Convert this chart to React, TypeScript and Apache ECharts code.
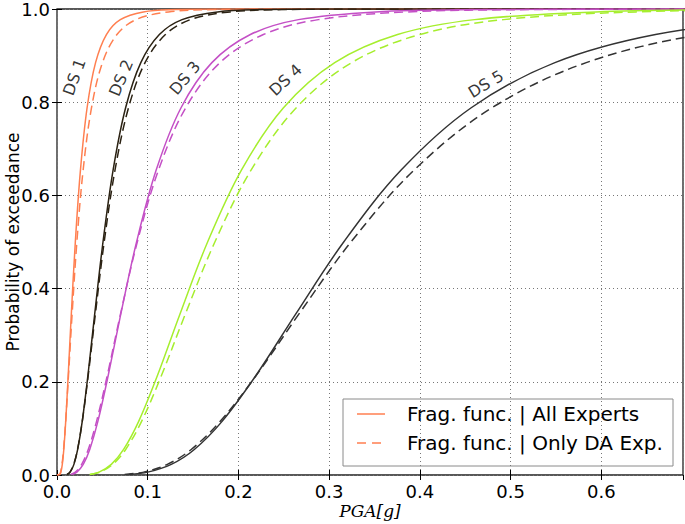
import React, { useEffect, useRef } from "react";
import * as echarts from "echarts";

const probLevels = [0.0013, 0.0062, 0.0228, 0.0548, 0.1151, 0.2119, 0.3446, 0.5, 0.6554, 0.7881, 0.8849, 0.9452, 0.9772, 0.9938, 0.9987, 0.9998];

// PGA [g] values at which each curve reaches the probability levels above
const ds1AllX = [0.00315, 0.00429, 0.00585, 0.00749, 0.0096, 0.0123, 0.01576, 0.0202, 0.02589, 0.03317, 0.04251, 0.05447, 0.0698, 0.09517, 0.12976, 0.1769];
const ds1DaX = [0.00276, 0.0039, 0.00551, 0.00726, 0.00957, 0.01261, 0.01662, 0.0219, 0.02886, 0.03804, 0.05012, 0.06605, 0.08705, 0.12292, 0.17355, 0.24506];
const ds2AllX = [0.01131, 0.01453, 0.01865, 0.02278, 0.02782, 0.03398, 0.04151, 0.0507, 0.06192, 0.07563, 0.09238, 0.11283, 0.13782, 0.17696, 0.22722, 0.29176];
const ds2DaX = [0.01093, 0.01417, 0.01838, 0.02263, 0.02786, 0.0343, 0.04223, 0.052, 0.06402, 0.07883, 0.09705, 0.11949, 0.14712, 0.1908, 0.24746, 0.32094];
const ds3AllX = [0.01659, 0.0219, 0.02891, 0.03609, 0.04506, 0.05626, 0.07024, 0.0877, 0.1095, 0.13672, 0.1707, 0.21313, 0.26612, 0.35123, 0.46357, 0.61185];
const ds3DaX = [0.01507, 0.02025, 0.0272, 0.03444, 0.0436, 0.05521, 0.0699, 0.0885, 0.11206, 0.14188, 0.17966, 0.22746, 0.28801, 0.38685, 0.51957, 0.69785];
const ds4AllX = [0.03594, 0.04638, 0.05986, 0.07341, 0.09002, 0.11039, 0.13537, 0.166, 0.20357, 0.24963, 0.30612, 0.37539, 0.46035, 0.59406, 0.76662, 0.98928];
const ds4DaX = [0.03656, 0.04742, 0.06151, 0.07572, 0.09323, 0.11479, 0.14132, 0.174, 0.21423, 0.26377, 0.32475, 0.39983, 0.49228, 0.63846, 0.82803, 1.0739];
const ds5AllX = [0.0795, 0.10005, 0.12593, 0.15136, 0.18195, 0.2187, 0.26288, 0.316, 0.37983, 0.45656, 0.54883, 0.65968, 0.79294, 0.998, 1.256, 1.581];
const ds5DaX = [0.07449, 0.09519, 0.1216, 0.14794, 0.17995, 0.21893, 0.26633, 0.324, 0.39415, 0.47949, 0.58333, 0.70966, 0.8633, 1.103, 1.409, 1.8];

const dsNames = ["DS 1", "DS 2", "DS 3", "DS 4", "DS 5"];
const dsColors = ["#ff7f50", "#2b2213", "#c450c6", "#a6ee2e", "#333333"];
const dsAllX = [ds1AllX, ds2AllX, ds3AllX, ds4AllX, ds5AllX];
const dsDaX = [ds1DaX, ds2DaX, ds3DaX, ds4DaX, ds5DaX];
const dsStartsAtOrigin = [true, false, false, false, false];

// DS label anchor (in data units) and text angle
const dsLabelX = [0.019, 0.0705, 0.141, 0.252, 0.4727];
const dsLabelY = [0.854, 0.852, 0.852, 0.848, 0.839];
const dsLabelAngle = [70, 67, 50, 43, 31];

const legendLabels = ["Frag. func. | All Experts", "Frag. func. | Only DA Exp."];
const xAxisName = "PGA[g]";
const yAxisName = "Probability of exceedance";
const xMax = 0.69;
const xInterval = 0.1;
const yInterval = 0.2;

const FONT = "DejaVu Sans";

function buildPoints(xs: number[], origin: boolean): number[][] {
  const pts: number[][] = xs.map((x, i) => [x, probLevels[i]]);
  if (origin) pts.unshift([0, 0]);
  if (xs[xs.length - 1] < xMax) pts.push([0.75, 1.0]);
  return pts;
}

export default function App() {
  const ref = useRef<HTMLDivElement>(null);
  useEffect(() => {
    if (!ref.current) return;
    const chart = echarts.init(ref.current, undefined, { renderer: "svg" });

    const series: any[] = [];
    dsNames.forEach((name, k) => {
      series.push({
        name: name + " all",
        type: "line",
        data: buildPoints(dsAllX[k], dsStartsAtOrigin[k]),
        showSymbol: false,
        symbol: "none",
        smooth: 0.35,
        clip: true,
        lineStyle: { color: dsColors[k], width: 1.5, type: "solid" },
        z: 3,
        silent: true,
      });
      series.push({
        name: name + " da",
        type: "line",
        data: buildPoints(dsDaX[k], dsStartsAtOrigin[k]),
        showSymbol: false,
        symbol: "none",
        smooth: 0.35,
        clip: true,
        lineStyle: { color: dsColors[k], width: 1.5, type: [9, 5] },
        z: 3,
        silent: true,
      });
    });
    series.push({
      name: "labels",
      type: "scatter",
      symbolSize: 0,
      silent: true,
      z: 5,
      data: dsNames.map((n, k) => ({
        value: [dsLabelX[k], dsLabelY[k]],
        label: {
          show: true,
          formatter: n,
          rotate: dsLabelAngle[k],
          position: "inside",
          color: "#000",
          fontFamily: FONT,
          fontSize: 16,
        },
      })),
    });

    const gridLeft = 57, gridTop = 9, gridRight = 2, gridBottom = 49;
    const lgX = 343, lgY = 399, lgW = 330, lgH = 67;

    chart.setOption({
      animation: false,
      backgroundColor: "#fff",
      grid: {
        left: gridLeft,
        top: gridTop,
        right: gridRight,
        bottom: gridBottom,
        containLabel: false,
        outerBoundsMode: "none",
        show: true,
        borderColor: "#222",
        borderWidth: 1.3,
        backgroundColor: "transparent",
      },
      xAxis: [
        {
          type: "value",
          min: 0,
          max: xMax,
          interval: xInterval,
          name: xAxisName,
          nameLocation: "middle",
          nameGap: 27,
          nameMoveOverlap: false,
          nameTextStyle: { fontFamily: "DejaVu Serif", fontStyle: "italic", fontSize: 17, color: "#000" },
          axisLine: { show: false },
          axisTick: { show: true, inside: true, length: 5, lineStyle: { color: "#000" } },
          axisLabel: {
            color: "#000",
            fontFamily: FONT,
            fontSize: 18,
            margin: 7,
            showMaxLabel: false,
            formatter: (v: number) => v.toFixed(1),
          },
          splitLine: { show: true, lineStyle: { color: "#777", width: 1, type: [1, 3] } },
        },
        {
          type: "value",
          position: "top",
          min: 0,
          max: xMax,
          interval: xInterval,
          axisLine: { show: false },
          axisTick: { show: true, inside: true, length: 5, lineStyle: { color: "#000" } },
          axisLabel: { show: false },
          splitLine: { show: false },
        },
      ],
      yAxis: [
        {
          type: "value",
          min: 0,
          max: 1,
          interval: yInterval,
          name: yAxisName,
          nameLocation: "middle",
          nameGap: 36,
          nameMoveOverlap: false,
          nameTextStyle: { fontFamily: FONT, fontSize: 17, color: "#000" },
          axisLine: { show: false },
          axisTick: { show: true, inside: true, length: 5, lineStyle: { color: "#000" } },
          axisLabel: {
            color: "#000",
            fontFamily: FONT,
            fontSize: 18,
            margin: 7,
            formatter: (v: number) => v.toFixed(1),
          },
          splitLine: { show: true, lineStyle: { color: "#777", width: 1, type: [1, 3] } },
        },
        {
          type: "value",
          position: "right",
          min: 0,
          max: 1,
          interval: yInterval,
          axisLine: { show: false },
          axisTick: { show: true, inside: true, length: 5, lineStyle: { color: "#000" } },
          axisLabel: { show: false },
          splitLine: { show: false },
        },
      ],
      series,
      graphic: [
        {
          type: "group",
          z: 100,
          children: [
            {
              type: "rect",
              shape: { x: lgX, y: lgY, width: lgW, height: lgH },
              style: { fill: "rgba(255,255,255,0.6)", stroke: "#8a8a8a", lineWidth: 1 },
            },
            {
              type: "line",
              shape: { x1: lgX + 14, y1: lgY + 15, x2: lgX + 42, y2: lgY + 15 },
              style: { stroke: dsColors[0], lineWidth: 1.5 },
            },
            {
              type: "line",
              shape: { x1: lgX + 14, y1: lgY + 44, x2: lgX + 42, y2: lgY + 44 },
              style: { stroke: dsColors[0], lineWidth: 1.5, lineDash: [9, 6] },
            },
            {
              type: "text",
              x: lgX + 64,
              y: lgY + 15,
              style: { text: legendLabels[0], fontFamily: FONT, fontSize: 20, fill: "#000", verticalAlign: "middle", align: "left" },
            },
            {
              type: "text",
              x: lgX + 64,
              y: lgY + 44,
              style: { text: legendLabels[1], fontFamily: FONT, fontSize: 20, fill: "#000", verticalAlign: "middle", align: "left" },
            },
          ],
        },
      ],
    });
    return () => chart.dispose();
  }, []);
  return (
    <div
      ref={ref}
      style={{ position: "absolute", left: 0, top: 0, width: 685, height: 524 }}
    />
  );
}
